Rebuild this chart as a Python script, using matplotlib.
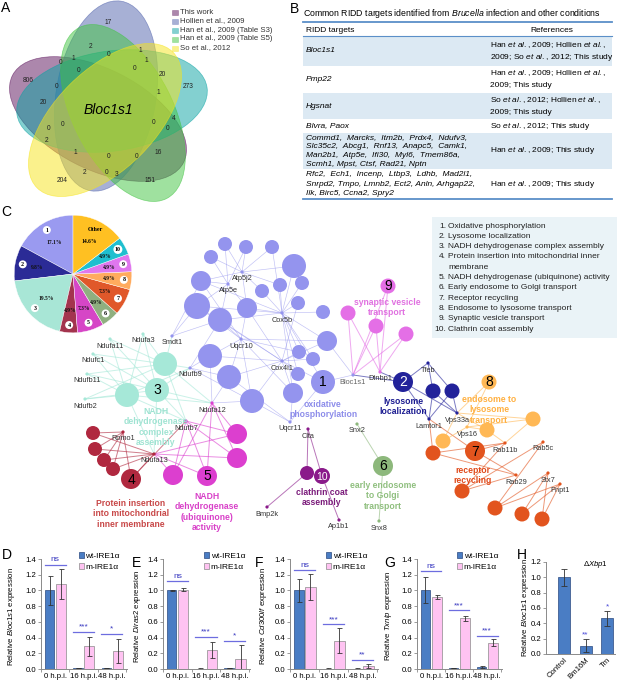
import matplotlib
matplotlib.use('Agg')
import matplotlib.pyplot as plt
from matplotlib.patches import Ellipse, Circle, Rectangle, Patch
import numpy as np

plt.rcParams['font.family'] = ['Liberation Sans', 'DejaVu Sans']
plt.rcParams['mathtext.fontset'] = 'custom'
plt.rcParams['mathtext.rm'] = 'Liberation Sans'
plt.rcParams['mathtext.it'] = 'Liberation Sans:italic'
plt.rcParams['mathtext.bf'] = 'Liberation Sans:bold'

# ---------------- DATA ----------------
venn_sets = ['This work', 'Hollien et al., 2009', 'Han et al., 2009 (Table S3)',
             'Han et al., 2009 (Table S5)', 'So et al., 2012']
venn_colors = ['#5A105A', '#5062AC', '#08A3A3', '#40C440', '#F7E41A']
venn_counts = ['17', '2', '0', '1', '0', '1', '1', '0', '0', '20', '806', '0', '273', '1',
               '20', '0', '0', '0', '4', '0', '2', '1', '16', '0', '0', '2', '0', '3',
               '204', '151']
venn_center_label = 'Bloc1s1'

table_title = r'Common RIDD targets identified from $\mathit{Brucella}$ infection and other conditions'
table_header = ['RIDD targets', 'References']
table_genes = [['Bloc1s1'], ['Pmp22'], ['Hgsnat'], ['Blvra, Paox'],
               ['Commd1,  Marcks,  Itm2b,  Prdx4,  Ndufv3,',
                'Slc35c2,  Abcg1,  Rnf13,  Anapc5,  Camk1,',
                'Man2b1,  Atp5e,  Ifi30,  Myl6,  Tmem86a,',
                'Scmh1, Mpst, Ctsf, Rad21, Nptn'],
               ['Rfc2,  Ech1,  Incenp,  Ltbp3,  Ldhb,  Mad2l1,',
                'Snrpd2, Tmpo, Lmnb2, Ect2, Anln, Arhgap22,',
                'Ilk, Birc5, Ccna2, Spry2']]
table_refs = [[r'Han $\mathit{et\ al.}$, 2009; Hollien $\mathit{et\ al.}$,',
               r'2009; So $\mathit{et\ al.}$, 2012; This study'],
              [r'Han $\mathit{et\ al.}$, 2009; Hollien $\mathit{et\ al.}$,', '2009; This study'],
              [r'So $\mathit{et\ al.}$, 2012; Hollien $\mathit{et\ al.}$,', '2009; This study'],
              [r'So $\mathit{et\ al.}$, 2012; This study'],
              [r'Han $\mathit{et\ al.}$, 2009; This study'],
              [r'Han $\mathit{et\ al.}$, 2009; This study']]

pie_labels = ['1', '2', '3', '4', '5', '6', '7', '8', '9', '10', 'Other']
pie_pct = [17.1, 9.8, 19.5, 4.9, 7.3, 4.9, 7.3, 4.9, 4.9, 4.9, 14.6]
pie_colors = ['#9A9AF0', '#2B2B96', '#A8E6D6', '#A3344E', '#D646C6', '#8FAF80',
              '#E0582A', '#FFAB5E', '#E077EE', '#1FBFCF', '#FFC022']

go_terms = ['Oxidative phosphorylation', 'Lysosome localization',
            'NADH dehydrogenase complex assembly',
            'Protein insertion into mitochondrial inner\nmembrane',
            'NADH dehydrogenase (ubiquinone) activity', 'Early endosome to Golgi transport',
            'Receptor recycling', 'Endosome to lysosome transport',
            'Synaptic vesicle transport', 'Clathrin coat assembly']
cluster_names = {1: 'oxidative\nphosphorylation', 2: 'lysosome\nlocalization',
                 3: 'NADH\ndehydrogenase\ncomplex\nassembly',
                 4: 'Protein insertion\ninto mitochondrial\ninner membrane',
                 5: 'NADH\ndehydrogenase\n(ubiquinone)\nactivity',
                 6: 'early endosome\nto Golgi\ntransport', 7: 'receptor\nrecycling',
                 8: 'endosome to\nlysosome\ntransport', 9: 'synaptic vesicle\ntransport',
                 10: 'clathrin coat\nassembly'}

groups = ['0 h.p.i.', '16 h.p.i.', '48 h.p.i.']
series_names = ['wt-IRE1\u03b1', 'm-IRE1\u03b1']
D_wt = [1.00, 0.010, 0.012]; D_wt_err = [0.18, 0.003, 0.004]
D_m = [1.08, 0.29, 0.23];    D_m_err = [0.19, 0.12, 0.155]
E_wt = [1.00, 0.005, 0.012]; E_wt_err = [0.006, 0.002, 0.005]
E_m = [1.01, 0.24, 0.125];   E_m_err = [0.02, 0.10, 0.175]
F_wt = [1.00, 0.005, 0.005]; F_wt_err = [0.15, 0.002, 0.002]
F_m = [1.04, 0.36, 0.04];    F_m_err = [0.165, 0.16, 0.025]
G_wt = [1.00, 0.012, 0.022]; G_wt_err = [0.165, 0.005, 0.010]
G_m = [0.92, 0.645, 0.335];  G_m_err = [0.025, 0.035, 0.045]
D_sig = [('ns', 0, 1.33), ('***', 1, 0.475), ('*', 2, 0.45)]
E_sig = [('ns', 0, 1.12), ('***', 1, 0.41), ('*', 2, 0.36)]
F_sig = [('ns', 0, 1.26), ('***', 1, 0.57), ('**', 2, 0.115)]
G_sig = [('ns', 0, 1.25), ('***', 1, 0.75), ('***', 2, 0.42)]
H_cats = ['Control', 'Bm16M', 'Tm']
H_vals = [1.00, 0.11, 0.465]
H_err = [0.11, 0.085, 0.095]
H_sig = [('', 0, 0), ('**', 1, 0.21), ('*', 2, 0.575)]

# ---------------- LAYOUT (pixel space) ----------------
W, H = 617, 684
venn_ell = [(98, 119, 27), (106, 96, 99), (112, 101, -8), (123, 113, 63), (105, 120, -45)]
venn_ell_size = (192, 100)
venn_pos = [(108, 23), (91, 47), (109, 54), (140, 51), (61, 63), (73, 59), (146, 61),
            (79, 71), (135, 69), (162, 75), (28, 81), (57, 87), (188, 87), (158, 93),
            (43, 102), (49, 128), (63, 125), (154, 122), (174, 119), (168, 128),
            (47, 140), (75, 152), (158, 152), (109, 157), (137, 156), (85, 172),
            (107, 172), (117, 175), (62, 180), (150, 180)]

net_colors = {1: '#9494EE', 2: '#22229A', 3: '#A6E8D8', 4: '#B0283F', 5: '#DC3FCF',
              6: '#8DB87C', 7: '#E2541E', 8: '#FFB855', 9: '#E46FE6', 10: '#8A1A8A'}
net_text_colors = {1: '#8C8CEA', 2: '#1A1A90', 3: '#9FE3D2', 4: '#C84848', 5: '#D840C8',
                   6: '#8FBF7E', 7: '#E04818', 8: '#FFB040', 9: '#E070E0', 10: '#7A1A7A'}
net_circles = {
    1: [(225, 244, 7), (246, 247, 7), (272, 247, 7), (211, 257, 7), (294, 266, 12),
        (201, 281, 10), (280, 285, 7), (302, 283, 7), (262, 291, 7), (197, 306, 13),
        (247, 308, 10), (298, 303, 7), (220, 320, 12), (323, 312, 7), (327, 341, 10),
        (210, 356, 12), (299, 352, 7), (313, 359, 7), (229, 377, 12), (298, 374, 7),
        (323, 382, 12), (293, 393, 10), (252, 401, 12)],
    2: [(403, 382, 10), (433, 391, 7.5), (452, 391, 7.5)],
    3: [(165, 364, 12), (157, 390, 12), (127, 395, 12)],
    4: [(93, 433, 7), (95, 449, 7), (104, 460, 7), (113, 469, 7), (131, 479, 10)],
    5: [(237, 434, 10), (237, 458, 10), (173, 475, 10), (207, 476, 10)],
    6: [(383, 466, 10)],
    7: [(475, 451, 10), (433, 453, 7.5), (462, 491, 7.5), (495, 508, 7.5),
        (522, 514, 7.5), (542, 519, 7.5)],
    8: [(489, 382, 7.5), (533, 419, 7.5), (487, 430, 7.5), (443, 441, 7.5)],
    9: [(388, 286, 7.5), (348, 313, 7.5), (376, 326, 7.5), (406, 334, 7.5)],
    10: [(307, 473, 7), (322, 476, 8)],
}
net_num_node = {1: 20, 2: 0, 3: 1, 4: 4, 5: 3, 6: 0, 7: 0, 8: 0, 9: 0, 10: 1}
net_label_pos = {1: (323, 400), 2: (403, 397), 3: (156, 407), 4: (131, 499),
                 5: (207, 492), 6: (383, 481), 7: (473, 466), 8: (489, 395),
                 9: (387, 298), 10: (322, 488)}

def L(c, *idx):
    return [(c, i) for i in idx]

net_genes = [
    ('Atp5j2', 242, 272, 1, L(1, 0, 1, 2, 3, 4, 5, 8, 10, 6)),
    ('Atp5e', 228, 284, 1, L(1, 0, 1, 3, 5, 9, 10, 12)),
    ('Cox5b', 282, 313, 1, L(1, 2, 4, 6, 7, 8, 10, 11, 13, 14, 12, 16, 17, 19, 21, 9, 20, 5)),
    ('Cox4i1', 282, 361, 1, L(1, 12, 15, 18, 16, 17, 19, 20, 21, 22, 14, 10, 11, 9)),
    ('Uqcr10', 241, 339, 1, L(1, 9, 12, 15, 18, 22, 10, 5, 14, 16, 21)),
    ('Smdt1', 172, 336, 1, L(1, 9, 5, 12) + L(3, 0)),
    ('Ndufb9', 190, 368, 1, L(1, 15, 18, 12, 22) + L(3, 0, 1, 2)),
    ('Uqcr11', 290, 422, 1, L(1, 22, 21, 18, 20)),
    ('Bloc1s1', 353, 375, 1, L(1, 20, 14) + L(9, 0, 1, 2, 3) + L(2, 0)),
    ('Dtnbp1', 380, 372, 9, L(9, 0, 1, 2, 3) + L(2, 0)),
    ('Ndufa3', 143, 334, 3, L(3, 0, 1, 2)),
    ('Ndufa11', 110, 339, 3, L(3, 0, 1, 2)),
    ('Ndufc1', 93, 354, 3, L(3, 0, 1, 2)),
    ('Ndufb11', 87, 374, 3, L(3, 0, 1, 2)),
    ('Ndufb2', 85, 399, 3, L(3, 0, 1, 2)),
    ('Ndufa12', 212, 403, 5, L(5, 0, 1, 2, 3) + L(3, 0, 1, 2) + L(1, 15, 18, 22)),
    ('Ndufb7', 186, 421, 5, L(5, 0, 1, 2, 3) + L(3, 0, 1, 2) + L(4, 4)),
    ('Ndufa13', 154, 454, 4, L(4, 0, 1, 2, 3, 4) + L(5, 0, 1, 2, 3) + L(3, 1, 2)),
    ('Romo1', 123, 432, 4, L(4, 0, 1, 2, 3, 4)),
    ('Clta', 308, 429, 10, L(10, 0, 1)),
    ('Bmp2k', 267, 507, 10, L(10, 0)),
    ('Ap1b1', 339, 520, 10, L(10, 1)),
    ('Snx2', 357, 424, 6, L(6, 0)),
    ('Snx8', 379, 521, 6, L(6, 0)),
    ('Tfeb', 428, 363, 2, L(2, 0, 1, 2)),
    ('Lamtor1', 429, 419, 2, L(2, 0, 1, 2) + L(7, 0, 1)),
    ('Vps33a', 457, 413, 2, L(2, 0, 1, 2) + L(8, 0, 1, 2, 3)),
    ('Vps16', 467, 427, 8, L(8, 0, 1, 2, 3)),
    ('Rab11b', 505, 443, 7, L(7, 0, 1, 2) + L(8, 1, 2)),
    ('Rab5c', 543, 442, 7, L(7, 2, 3)),
    ('Rab29', 516, 475, 7, L(7, 0, 1, 2)),
    ('Stx7', 548, 473, 7, L(7, 3, 4, 5)),
    ('Pnpt1', 560, 484, 7, L(7, 3, 4, 5)),
]

# ---------------- FIGURE ----------------
fig = plt.figure(figsize=(W / 100, H / 100), dpi=100)
ax0 = fig.add_axes([0, 0, 1, 1])
ax0.set_xlim(0, W); ax0.set_ylim(H, 0); ax0.axis('off')

for lab, (x, y) in zip('ABC', [(1, 8), (290, 9), (1, 212)]):
    ax0.text(x, y, lab, fontsize=10, ha='left', va='center')
for lab, (x, y) in zip('DEFGH', [(2, 555), (132, 563), (255, 563), (384, 563), (517, 555)]):
    ax0.text(x, y, lab, fontsize=10, ha='left', va='center')

# ---- A: Venn ----
for (cx, cy, ang), col in zip(venn_ell, venn_colors):
    ax0.add_patch(Ellipse((cx, cy), venn_ell_size[0], venn_ell_size[1], angle=ang,
                          facecolor=col, alpha=0.5, edgecolor='none', zorder=1))
    ax0.add_patch(Ellipse((cx, cy), venn_ell_size[0], venn_ell_size[1], angle=ang,
                          facecolor='none', edgecolor=col, alpha=0.6, lw=0.5, zorder=1))
for cnt, (x, y) in zip(venn_counts, venn_pos):
    ax0.text(x, y, cnt, fontsize=4.8, ha='center', va='center', color='#222222', zorder=2)
ax0.text(108, 110, venn_center_label, fontsize=10, style='italic', ha='center', va='center', zorder=2)
for i, (name, col) in enumerate(zip(venn_sets, venn_colors)):
    y = 12 + i * 9
    ax0.add_patch(Rectangle((172, y - 2.5), 6, 5, facecolor=col, alpha=0.5, edgecolor=col, lw=0.4))
    ax0.text(180, y, name, fontsize=5.6, ha='left', va='center', color='#333333')

# ---- B: table ----
ax0.text(303, 14, table_title, fontsize=6.3, ha='left', va='center')
row_bounds = [36, 66, 93, 119, 133, 169, 199]
for i in range(6):
    fc = '#DCE9F3' if i % 2 == 0 else '#FFFFFF'
    ax0.add_patch(Rectangle((303, row_bounds[i]), 309, row_bounds[i + 1] - row_bounds[i],
                            facecolor=fc, edgecolor='none', zorder=0))
ax0.plot([303, 612], [22, 22], color='#5B8FC8', lw=1.3)
ax0.plot([303, 612], [36, 36], color='#5B8FC8', lw=0.8)
ax0.plot([303, 612], [199, 199], color='#5B8FC8', lw=1.3)
ax0.text(306, 30, table_header[0], fontsize=6, ha='left', va='center')
ax0.text(552, 30, table_header[1], fontsize=6, ha='center', va='center')
for i in range(6):
    top, bot = row_bounds[i], row_bounds[i + 1]
    mid = (top + bot) / 2
    g = table_genes[i]
    n = len(g)
    for k, line in enumerate(g):
        y = mid + (k - (n - 1) / 2) * 9.3
        ax0.text(306, y, line, fontsize=6, style='italic', ha='left', va='center')
    r = table_refs[i]
    n = len(r)
    for k, line in enumerate(r):
        y = mid + (k - (n - 1) / 2) * 12.5
        ax0.text(490, y, line, fontsize=6, ha='left', va='center')

# ---- C: pie ----
axp = fig.add_axes([13 / W, 1 - 334 / H, 120 / W, 120 / H])
wedges, _ = axp.pie(pie_pct, colors=pie_colors, startangle=90, counterclock=True,
                    wedgeprops=dict(linewidth=0.3, edgecolor='white'))
axp.set_xlim(-1.02, 1.02); axp.set_ylim(-1.02, 1.02); axp.set_aspect('equal')
for w, lab, pct in zip(wedges, pie_labels, pie_pct):
    th = np.deg2rad((w.theta1 + w.theta2) / 2)
    if lab == 'Other':
        axp.text(0.85 * np.cos(th), 0.85 * np.sin(th), 'Other', fontsize=4.3,
                 family='Liberation Serif', weight='bold', ha='center', va='center')
        axp.text(0.62 * np.cos(th), 0.62 * np.sin(th), '%.1f%%' % pct, fontsize=4.0,
                 family='Liberation Serif', weight='bold', ha='center', va='center')
        continue
    axp.text(0.87 * np.cos(th), 0.87 * np.sin(th), lab, fontsize=4.3, family='Liberation Serif',
             weight='bold', ha='center', va='center',
             bbox=dict(boxstyle='circle,pad=0.25', fc='white', ec='none'))
    rr = 0.62
    axp.text(rr * np.cos(th), rr * np.sin(th), '%.1f%%' % pct, fontsize=4.0,
             family='Liberation Serif', weight='bold', ha='center', va='center', color='#111111')

# ---- C: network ----
for name, gx, gy, home, links in net_genes:
    for (c, i) in links:
        cx, cy, r = net_circles[c][i]
        lw = 0.45 if c == 1 else 0.7
        ax0.plot([gx, cx], [gy, cy], color=net_colors[c], lw=lw, alpha=0.6, zorder=2,
                 solid_capstyle='round')
for c, circs in net_circles.items():
    for (cx, cy, r) in circs:
        ax0.add_patch(Circle((cx, cy), r, facecolor=net_colors[c], edgecolor='none', zorder=3))
    cx, cy, r = circs[net_num_node[c]]
    tc = 'white' if c in (2, 10) else 'black'
    ax0.text(cx, cy + 0.5, str(c), fontsize=10 if c != 10 else 7.5, ha='center', va='center',
             color=tc, zorder=6)
    lx, ly = net_label_pos[c]
    ax0.text(lx, ly, cluster_names[c], fontsize=6.2, weight='bold', color=net_text_colors[c],
             ha='center', va='top', linespacing=1.2, zorder=5)
for name, gx, gy, home, links in net_genes:
    ax0.add_patch(Circle((gx, gy), 1.6, facecolor=net_colors[home], edgecolor='none', zorder=4))
    ax0.text(gx, gy + 3.5, name, fontsize=5.3, ha='center', va='top',
             color='#666666' if name == 'Bloc1s1' else '#333333', zorder=6)

# C legend box
ax0.add_patch(Rectangle((432, 217), 185, 121, facecolor='#EAF3F7', edgecolor='none', zorder=0))
yy = 226
for i, t in enumerate(go_terms):
    ax0.text(446, yy, '%d.' % (i + 1), fontsize=6.0, ha='right', va='center', color='#222222')
    for part in t.split('\n'):
        ax0.text(448, yy, part, fontsize=6.0, ha='left', va='center', color='#222222')
        yy += 10.3

# ---- D-G: bar charts ----
WT_C, WT_E = '#4A7DC4', '#2A4A80'
M_C, M_E = '#FFC3F2', '#8A8A8A'
SIG_C = '#4848D8'

def px_rect(l, t, r, b):
    return [l / W, 1 - b / H, (r - l) / W, (b - t) / H]

def style_axes(ax, ymax, step):
    for s in ('top', 'right'):
        ax.spines[s].set_visible(False)
    for s in ('left', 'bottom'):
        ax.spines[s].set_color('#8A8A8A'); ax.spines[s].set_linewidth(0.7)
    ax.set_ylim(0, ymax)
    ax.set_yticks(np.arange(0, ymax + 1e-6, step))
    ax.set_yticklabels(['%.1f' % v for v in np.arange(0, ymax + 1e-6, step)])
    ax.tick_params(axis='y', labelsize=5.6, length=2, width=0.6, color='#8A8A8A', pad=1.5)
    ax.set_facecolor('none')

def bar_panel(rect, wt, wte, m, me, gene, sig, legx, ylab_x):
    ax = fig.add_axes(px_rect(*rect))
    x = np.arange(len(groups))
    ax.bar(x - 0.2, wt, 0.33, yerr=wte, color=WT_C, edgecolor=WT_E, lw=0.5,
           error_kw=dict(lw=0.6, capsize=1.8, capthick=0.6, ecolor='#333333'), label=series_names[0])
    ax.bar(x + 0.2, m, 0.36, yerr=me, color=M_C, edgecolor=M_E, lw=0.5,
           error_kw=dict(lw=0.6, capsize=1.8, capthick=0.6, ecolor='#333333'), label=series_names[1])
    ax.set_xlim(-0.5, 2.53)
    style_axes(ax, 1.4, 0.2)
    ax.set_xticks(x)
    ax.set_xticklabels(groups, fontsize=5.6)
    ax.set_xticks([-0.5, 0.5, 1.5, 2.5], minor=True)
    ax.tick_params(axis='x', which='major', length=0, pad=3)
    ax.tick_params(axis='x', which='minor', length=2, width=0.6, color='#8A8A8A')
    for txt, g, yv in sig:
        ax.plot([g - 0.37, g + 0.37], [yv, yv], color=SIG_C, lw=0.9, alpha=0.8)
        ax.text(g, yv + 0.015, txt, color='#3838C0', fontsize=6, ha='center', va='bottom')
    ax.set_ylabel('Relative $\\mathit{%s}$ expression' % gene, fontsize=5.6)
    ax.yaxis.set_label_coords((ylab_x - rect[0]) / (rect[2] - rect[0]), 0.48)
    hs = [Patch(facecolor=WT_C, edgecolor=WT_E, lw=0.5), Patch(facecolor=M_C, edgecolor=M_E, lw=0.5)]
    ax.legend(hs, series_names, loc='upper left', bbox_to_anchor=(legx, 1.06), frameon=False,
              fontsize=6, handlelength=0.65, handleheight=0.65, handletextpad=0.15,
              labelspacing=0.35, borderaxespad=0, borderpad=0)
    return ax

bar_panel((41, 559, 127, 669), D_wt, D_wt_err, D_m, D_m_err, 'Bloc1s1', D_sig, 0.44, 17)
bar_panel((163, 559, 250, 669), E_wt, E_wt_err, E_m, E_m_err, 'Diras2', E_sig, 0.47, 143)
bar_panel((290, 559, 378, 669), F_wt, F_wt_err, F_m, F_m_err, 'Cd300lf', F_sig, 0.41, 269)
bar_panel((417, 559, 502, 669), G_wt, G_wt_err, G_m, G_m_err, 'Txnip', G_sig, 0.47, 394)

# ---- H ----
rectH = (546, 562, 615, 654)
axh = fig.add_axes(px_rect(*rectH))
xh = np.arange(len(H_cats))
axh.bar(xh, H_vals, 0.56, yerr=H_err, color=WT_C, edgecolor=WT_E, lw=0.5,
        error_kw=dict(lw=0.6, capsize=2, capthick=0.6, ecolor='#333333'))
axh.set_xlim(-0.84, 2.37)
style_axes(axh, 1.2, 0.2)
axh.set_xticks(xh)
axh.set_xticklabels(H_cats, fontsize=5.6, rotation=45, ha='right', rotation_mode='anchor')
axh.tick_params(axis='x', length=0, pad=2)
for txt, g, yv in H_sig:
    if txt:
        axh.text(g, yv, txt, color='#4848D8', fontsize=6, ha='center', va='bottom')
axh.text(0.72, 0.97, '$\\Delta\\mathit{Xbp1}$', transform=axh.transAxes, fontsize=5.6,
         ha='center', va='center')
axh.set_ylabel('Relative $\\mathit{Bloc1s1}$ expression', fontsize=5.6)
axh.yaxis.set_label_coords((531 - rectH[0]) / (rectH[2] - rectH[0]), 0.5)

fig.savefig('out.png', dpi=100)
